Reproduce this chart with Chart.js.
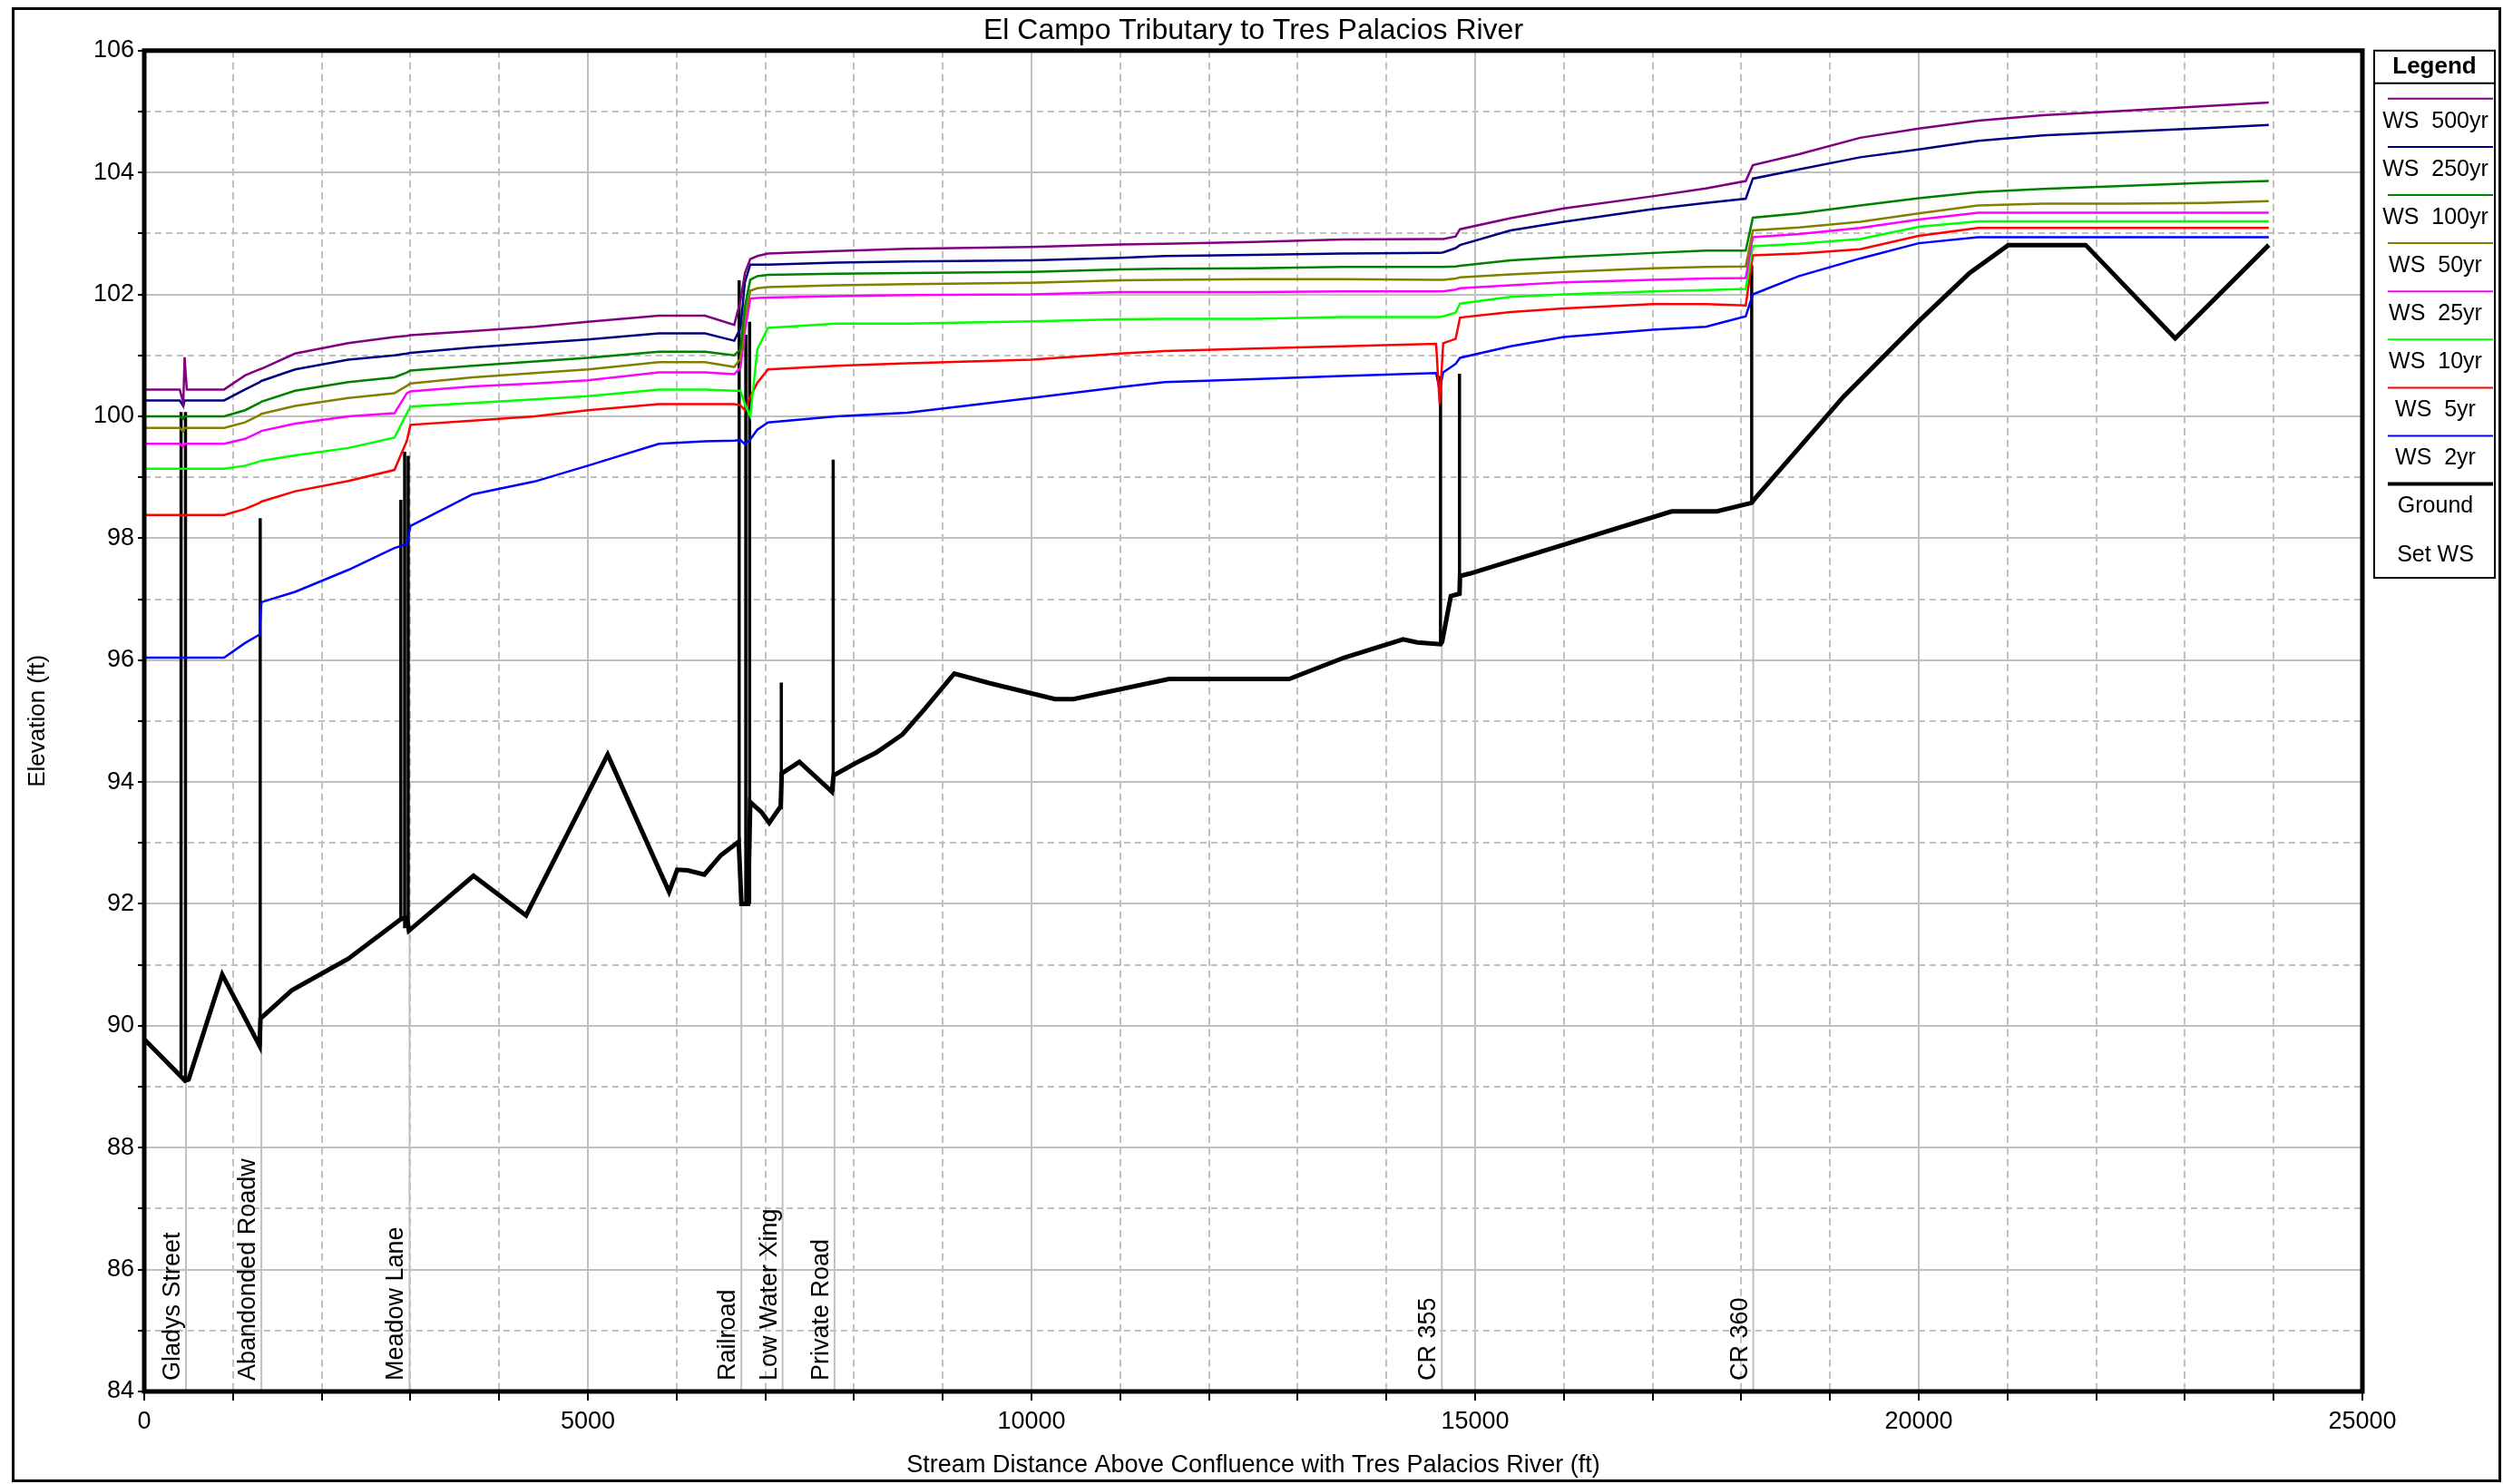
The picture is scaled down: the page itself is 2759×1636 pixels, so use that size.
<!DOCTYPE html>
<html lang="en">
<head>
<meta charset="utf-8">
<title>El Campo Tributary to Tres Palacios River</title>
<script src="https://cdn.jsdelivr.net/npm/chart.js@4.4.1/dist/chart.umd.min.js"></script>
<style>
  html, body { margin: 0; padding: 0; background: #ffffff; }
  canvas { display: block; }
</style>
</head>
<body>
<canvas id="profile" width="2759" height="1636"></canvas>
<script>
const stations = [0, 400, 440, 455, 480, 900, 1136, 1300, 1320, 1700, 2300, 2820, 2960, 3000, 3700,
  4400, 5000, 5800, 6320, 6650, 6720, 6770, 6830, 6910, 7030, 7800, 8600, 10000, 11000, 11500,
  12500, 13500, 14560, 14600, 14640, 14780, 14830, 15400, 16000, 17000, 17600, 18050, 18130, 18650,
  19340, 20000, 20670, 21400, 22300, 23230, 23945];

// water surface elevations (ft), one per station
const ws500 = [100.44, 100.44, 100.22, 100.97, 100.44, 100.44, 100.67, 100.77, 100.78, 101.03, 101.2, 101.3, 101.32, 101.33, 101.4,
  101.47, 101.55, 101.65, 101.65, 101.5, 101.9, 102.35, 102.58, 102.63, 102.67, 102.71, 102.75, 102.78, 102.82, 102.83,
  102.86, 102.9, 102.91, 102.91, 102.91, 102.95, 103.07, 103.25, 103.41, 103.61, 103.74, 103.86, 104.12, 104.3,
  104.57, 104.72, 104.85, 104.94, 105.01, 105.09, 105.15];
const ws250 = [100.26, 100.26, 100.17, 100.26, 100.26, 100.26, 100.44, 100.56, 100.58, 100.77, 100.93, 101.0, 101.03, 101.04, 101.13,
  101.2, 101.26, 101.36, 101.36, 101.24, 101.45, 102.2, 102.49, 102.49, 102.49, 102.52, 102.54, 102.56, 102.6, 102.63,
  102.65, 102.67, 102.68, 102.68, 102.69, 102.76, 102.81, 103.05, 103.19, 103.4, 103.5, 103.57, 103.9, 104.05,
  104.25, 104.38, 104.52, 104.61, 104.67, 104.73, 104.78];
const ws100 = [100.0, 100.0, 99.96, 100.0, 100.0, 100.0, 100.1, 100.22, 100.24, 100.42, 100.56, 100.64, 100.72, 100.75, 100.83,
  100.9, 100.96, 101.06, 101.06, 101.0, 101.1, 101.8, 102.24, 102.3, 102.32, 102.34, 102.35, 102.37, 102.41, 102.42,
  102.43, 102.45, 102.45, 102.45, 102.45, 102.46, 102.47, 102.56, 102.61, 102.68, 102.72, 102.72, 103.26, 103.33,
  103.46, 103.58, 103.68, 103.73, 103.78, 103.83, 103.86];
const ws50 = [99.81, 99.81, 99.75, 99.81, 99.81, 99.81, 99.9, 100.02, 100.04, 100.17, 100.3, 100.38, 100.5, 100.54, 100.64,
  100.71, 100.77, 100.89, 100.89, 100.81, 100.95, 101.6, 102.06, 102.1, 102.12, 102.15, 102.17, 102.19, 102.23, 102.24,
  102.25, 102.25, 102.24, 102.24, 102.24, 102.26, 102.28, 102.33, 102.37, 102.43, 102.45, 102.46, 103.05, 103.1,
  103.19, 103.33, 103.46, 103.49, 103.49, 103.5, 103.53];
const ws25 = [99.55, 99.55, 99.5, 99.55, 99.55, 99.55, 99.63, 99.74, 99.76, 99.88, 100.0, 100.05, 100.38, 100.41, 100.49,
  100.54, 100.59, 100.72, 100.72, 100.69, 100.8, 101.4, 101.93, 101.94, 101.95, 101.97, 101.99, 102.0, 102.04, 102.04,
  102.04, 102.05, 102.05, 102.05, 102.05, 102.08, 102.1, 102.15, 102.2, 102.24, 102.26, 102.27, 102.94, 102.99,
  103.09, 103.23, 103.34, 103.34, 103.34, 103.34, 103.34];
const ws10 = [99.14, 99.14, 99.14, 99.14, 99.14, 99.14, 99.19, 99.26, 99.27, 99.36, 99.48, 99.65, 100.05, 100.16, 100.22,
  100.28, 100.33, 100.44, 100.44, 100.42, 100.42, 100.2, 100.0, 101.1, 101.45, 101.52, 101.52, 101.56, 101.59, 101.6,
  101.6, 101.63, 101.63, 101.63, 101.64, 101.7, 101.85, 101.96, 102.0, 102.05, 102.07, 102.09, 102.79, 102.83,
  102.91, 103.11, 103.2, 103.2, 103.2, 103.2, 103.2];
const ws5 = [98.38, 98.38, 98.38, 98.38, 98.38, 98.38, 98.48, 98.58, 98.6, 98.77, 98.94, 99.12, 99.6, 99.86, 99.93,
  100.0, 100.1, 100.2, 100.2, 100.2, 100.18, 100.1, 100.32, 100.55, 100.77, 100.83, 100.87, 100.93, 101.03, 101.07,
  101.11, 101.15, 101.19, 100.2, 101.2, 101.27, 101.62, 101.71, 101.77, 101.84, 101.84, 101.82, 102.64, 102.67,
  102.74, 102.96, 103.09, 103.09, 103.09, 103.09, 103.09];
const ws2 = [96.04, 96.04, 96.04, 96.04, 96.04, 96.04, 96.28, 96.42, 96.95, 97.12, 97.48, 97.84, 97.9, 98.2, 98.72,
  98.93, 99.19, 99.55, 99.59, 99.6, 99.61, 99.54, 99.62, 99.78, 99.9, 100.0, 100.06, 100.3, 100.48, 100.56,
  100.61, 100.66, 100.71, 100.43, 100.72, 100.86, 100.96, 101.15, 101.3, 101.42, 101.47, 101.64, 102.0, 102.3,
  102.59, 102.84, 102.94, 102.94, 102.94, 102.94, 102.94];

// channel ground profile
const groundX = [0, 460, 500, 879, 1300, 1310, 1662, 2300, 2892, 2960, 2983, 3711, 4303, 5223, 5915,
  6007, 6126, 6313, 6500, 6700, 6731, 6806, 6830, 6960, 7044, 7173, 7185, 7384, 7750, 7770,
  8018, 8248, 8546, 8798, 9130, 9532, 10266, 10472, 11550, 12904, 13523, 14188, 14348, 14610, 14628,
  14726, 14824, 14830, 14941, 17215, 17725, 18117, 18165, 19151, 20000, 20573, 21009, 21881, 22890, 23945];
const groundY = [89.78, 89.1, 89.12, 90.84, 89.67, 90.12, 90.58, 91.1, 91.75, 91.78, 91.56, 92.46, 91.81, 94.45, 92.2,
  92.56, 92.55, 92.48, 92.8, 93.02, 92.0, 92.0, 93.67, 93.5, 93.33, 93.6, 94.14, 94.33, 93.84, 94.11,
  94.31, 94.48, 94.78, 95.2, 95.78, 95.62, 95.36, 95.36, 95.69, 95.69, 96.04, 96.34, 96.29, 96.26, 96.3,
  97.05, 97.09, 97.38, 97.42, 98.44, 98.44, 98.58, 98.67, 100.32, 101.56, 102.35, 102.81, 102.81, 101.28, 102.81];

// bridge deck faces: station, ground and top of road
const deckX = [415, 465, 1307, 2892, 2935, 2975, 6705, 6780, 6823, 7180, 7765, 14610, 14824, 18117];
const deckLow = [89.2, 89.12, 89.67, 91.75, 91.6, 91.56, 93.02, 92.0, 92.0, 93.55, 93.84, 96.26, 97.09, 98.58];
const deckTop = [100.07, 100.07, 98.33, 98.63, 99.42, 99.35, 102.23, 101.34, 101.55, 95.63, 99.29, 100.66, 100.7, 102.48];

// bridge names along the bottom of the plot
const bridgeNames = ['Gladys Street', 'Abandonded Roadw', 'Meadow Lane', 'Railroad', 'Low Water Xing', 'Private Road', 'CR 355', 'CR 360'];
const bridgeX = [470, 1320, 2990, 6730, 7195, 7780, 14625, 18135];
const bridgeGround = [89.12, 90.12, 91.56, 92.0, 94.14, 94.11, 96.3, 98.6];

// tick labels
const xLabels = [0, 5000, 10000, 15000, 20000, 25000];
const yLabels = [84, 86, 88, 90, 92, 94, 96, 98, 100, 102, 104, 106];

const wsNames = ['WS  500yr', 'WS  250yr', 'WS  100yr', 'WS  50yr', 'WS  25yr', 'WS  10yr', 'WS  5yr', 'WS  2yr'];
const wsData = [ws500, ws250, ws100, ws50, ws25, ws10, ws5, ws2];
const wsColors = ['#800080', '#000080', '#008000', '#808000', '#ff00ff', '#00ff00', '#ff0000', '#0000ff'];

const GRID = '#c0c0c0';
const NONE = 'rgba(0,0,0,0)';
const SANS = "'Liberation Sans', Arial, sans-serif";

function toPoints(xs, ys) {
  return xs.map((x, i) => ({ x: x, y: ys[i] }));
}

// vertical segments, split with gaps
function segments(xs, lows, tops) {
  const pts = [];
  xs.forEach((x, i) => {
    pts.push({ x: x, y: lows[i] }, { x: x, y: tops[i] }, { x: x, y: null });
  });
  return pts;
}

const datasets = wsData.map((ys, i) => ({
  label: wsNames[i],
  data: toPoints(stations, ys),
  borderColor: wsColors[i],
  borderWidth: 2.5,
  pointRadius: 0,
  tension: 0,
  order: 1
}));
datasets.push({
  label: 'Ground',
  data: toPoints(groundX, groundY),
  borderColor: '#000000',
  borderWidth: 5,
  pointRadius: 0,
  order: 5
});
datasets.push({
  label: 'decks',
  data: segments(deckX, deckLow, deckTop),
  borderColor: '#000000',
  borderWidth: 3.5,
  pointRadius: 0,
  spanGaps: false,
  order: 4
});
datasets.push({
  label: 'markers',
  data: segments(bridgeX, bridgeX.map(() => yLabels[0]), bridgeGround),
  borderColor: GRID,
  borderWidth: 2,
  pointRadius: 0,
  spanGaps: false,
  order: 10
});

// rotated bridge names next to their marker lines
const bridgeLabels = {
  id: 'bridgeLabels',
  afterDatasetsDraw(chart) {
    const { ctx } = chart;
    const x = chart.scales.x, y = chart.scales.y;
    ctx.save();
    ctx.font = '27px ' + SANS;
    ctx.fillStyle = '#000';
    ctx.textAlign = 'left';
    ctx.textBaseline = 'bottom';
    bridgeNames.forEach((name, i) => {
      ctx.save();
      ctx.translate(x.getPixelForValue(bridgeX[i]) - 1, y.getPixelForValue(yLabels[0]) - 12);
      ctx.rotate(-Math.PI / 2);
      ctx.fillText(name, 0, 0);
      ctx.restore();
    });
    ctx.restore();
  }
};

// plot frame, outer frame and the side legend
const frameAndLegend = {
  id: 'frameAndLegend',
  afterDraw(chart) {
    const { ctx, chartArea: a } = chart;
    ctx.save();
    ctx.strokeStyle = '#000';
    ctx.lineWidth = 5;
    ctx.strokeRect(a.left, a.top, a.right - a.left, a.bottom - a.top);
    ctx.lineWidth = 3;
    ctx.strokeRect(14.5, 9.5, chart.width - 18, chart.height - 13);

    const left = a.right + 13, right = chart.width - 9, top = a.top, bottom = 637;
    const mid = (left + right) / 2;
    ctx.fillStyle = '#fff';
    ctx.fillRect(left, top, right - left, bottom - top);
    ctx.lineWidth = 2;
    ctx.strokeRect(left, top, right - left, bottom - top);
    ctx.beginPath();
    ctx.moveTo(left, top + 36);
    ctx.lineTo(right, top + 36);
    ctx.stroke();

    ctx.fillStyle = '#000';
    ctx.textAlign = 'center';
    ctx.textBaseline = 'middle';
    ctx.font = 'bold 26px ' + SANS;
    ctx.fillText('Legend', mid, top + 18);

    ctx.font = '25px ' + SANS;
    const items = chart.data.datasets.slice(0, 9);
    const names = items.map(d => d.label).concat(['Set WS']);
    names.forEach((name, i) => {
      const ly = top + 53 + 53.1 * i;
      const d = items[i];
      if (d) {
        ctx.strokeStyle = d.borderColor;
        ctx.lineWidth = d.label === 'Ground' ? 4 : 2;
        ctx.beginPath();
        ctx.moveTo(left + 15, ly);
        ctx.lineTo(right - 2, ly);
        ctx.stroke();
      }
      ctx.fillText(name, mid + 1, ly + 25);
    });
    ctx.restore();
  }
};

new Chart(document.getElementById('profile'), {
  type: 'line',
  data: { datasets: datasets },
  options: {
    responsive: false,
    animation: false,
    devicePixelRatio: 1,
    events: [],
    layout: { padding: { top: 12, left: 0, right: 155, bottom: 0 } },
    plugins: {
      legend: { display: false },
      tooltip: { enabled: false },
      title: {
        display: true,
        text: 'El Campo Tributary to Tres Palacios River',
        fullSize: false,
        color: '#000',
        font: { family: SANS, size: 32, weight: 'normal', lineHeight: 1.15 },
        padding: { top: 4, bottom: 3 }
      }
    },
    scales: {
      x: {
        type: 'linear',
        min: 0,
        max: 25000,
        ticks: {
          stepSize: 1000,
          autoSkip: false,
          maxRotation: 0,
          padding: 7,
          color: '#000',
          font: { family: SANS, size: 27 },
          callback: v => xLabels.includes(v) ? String(v) : ''
        },
        grid: {
          color: c => (c.tick && xLabels.includes(c.tick.value)) ? GRID : NONE,
          lineWidth: 2,
          tickColor: '#000',
          tickLength: 10,
          tickWidth: 2
        },
        border: { display: false },
        title: {
          display: true,
          text: 'Stream Distance Above Confluence with Tres Palacios River (ft)',
          color: '#000',
          font: { family: SANS, size: 27 },
          padding: { top: 0, bottom: 4 }
        },
        afterFit: s => { s.height = 102; }
      },
      xMinor: {
        type: 'linear',
        position: 'bottom',
        min: 0,
        max: 25000,
        ticks: { display: false, stepSize: 1000, autoSkip: false },
        grid: {
          color: c => (c.tick && xLabels.includes(c.tick.value)) ? NONE : GRID,
          lineWidth: 2,
          drawTicks: false
        },
        border: { display: false, dash: [8, 5] },
        afterFit: s => { s.height = 0; }
      },
      y: {
        type: 'linear',
        min: 84,
        max: 106,
        ticks: {
          stepSize: 1,
          autoSkip: false,
          padding: 4,
          color: '#000',
          font: { family: SANS, size: 27 },
          callback: v => yLabels.includes(v) ? String(v) : ''
        },
        grid: {
          color: c => (c.tick && yLabels.includes(c.tick.value)) ? GRID : NONE,
          lineWidth: 2,
          tickColor: '#000',
          tickLength: 7,
          tickWidth: 2
        },
        border: { display: false },
        title: {
          display: true,
          text: 'Elevation (ft)',
          color: '#000',
          font: { family: SANS, size: 26 },
          padding: { top: 26, bottom: 0 }
        },
        afterFit: s => { s.width = 159; }
      },
      yMinor: {
        type: 'linear',
        position: 'left',
        min: 84,
        max: 106,
        ticks: { display: false, stepSize: 1, autoSkip: false },
        grid: {
          color: c => (c.tick && yLabels.includes(c.tick.value)) ? NONE : GRID,
          lineWidth: 2,
          drawTicks: false
        },
        border: { display: false, dash: [7, 5] },
        afterFit: s => { s.width = 0; }
      }
    }
  },
  plugins: [bridgeLabels, frameAndLegend]
});
</script>
</body>
</html>
